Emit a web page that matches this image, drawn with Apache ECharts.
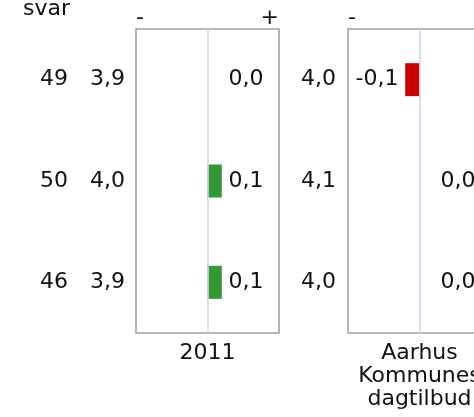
<!DOCTYPE html>
<html>
<head>
<meta charset="utf-8">
<script src="https://cdn.jsdelivr.net/npm/echarts@6/dist/echarts.min.js"></script>
<style>html,body{margin:0;padding:0;background:#fff;}#c{width:474px;height:417px;}</style>
</head>
<body>
<div id="c"></div>
<script>
// ---- data ----
var rows = [0, 1, 2];
var svarCounts = ['49', '50', '46'];
var mean2011 = [3.9, 4.0, 3.9];
var diff2011 = [0.0, 0.1, 0.1];
var meanAarhus = [4.0, 4.1, 4.0];
var diffAarhus = [-0.1, 0.0, 0.0];
var panelNames = ['2011', 'Aarhus\nKommunes\ndagtilbud'];
var signLabels = ['-', '+'];
var countHeader = 'svar';

var FONT = 'Verdana, "DejaVu Sans", sans-serif';
var TXT = '#111';
function fmt(v) { return (Math.abs(v) < 1e-9 ? 0 : v).toFixed(1).replace('.', ','); }

var chart = echarts.init(document.getElementById('c'), null, { renderer: 'canvas' });

var grids = [
  { left: 136, top: 29, width: 143, height: 304, show: true, borderColor: '#a0a0a0', borderWidth: 1.6, backgroundColor: 'transparent', outerBoundsMode: 'none' },
  { left: 348, top: 29, width: 143, height: 304, show: true, borderColor: '#a0a0a0', borderWidth: 1.6, backgroundColor: 'transparent', outerBoundsMode: 'none' }
];

var xAxes = [], yAxes = [], series = [];
var means = [mean2011, meanAarhus];
var diffs = [diff2011, diffAarhus];

[0, 1].forEach(function (g) {
  // top sign axis
  xAxes.push({
    gridIndex: g, type: 'value', position: 'top', min: -0.5, max: 0.5, interval: 0.5,
    axisLine: { show: false }, axisTick: { show: false }, splitLine: { show: false },
    axisLabel: {
      show: true, margin: 0, fontFamily: FONT, fontSize: 22, color: TXT,
      alignMinLabel: 'left', alignMaxLabel: 'right', hideOverlap: false,
      formatter: function (v) { return v < 0 ? signLabels[0] : (v > 0 ? signLabels[1] : ''); }
    }
  });
  // bottom name axis
  xAxes.push({
    gridIndex: g, type: 'value', position: 'bottom', min: -0.5, max: 0.5,
    axisLine: { show: false }, axisTick: { show: false }, splitLine: { show: false }, axisLabel: { show: false },
    name: panelNames[g], nameLocation: 'middle', nameGap: 9,
    nameTextStyle: { fontFamily: FONT, fontSize: 22, color: TXT, lineHeight: 23 }
  });
  // mean axis
  yAxes.push({
    gridIndex: g, type: 'category', inverse: true, data: means[g].map(fmt),
    axisLine: { show: false }, axisTick: { show: false }, splitLine: { show: false },
    axisLabel: { margin: g === 0 ? 11 : 12, fontFamily: FONT, fontSize: 22, color: TXT }
  });
});
// count axis for first grid
yAxes.push({
  gridIndex: 0, type: 'category', inverse: true, data: svarCounts, offset: 57, position: 'left',
  axisLine: { show: false }, axisTick: { show: false }, splitLine: { show: false },
  axisLabel: { margin: 11, fontFamily: FONT, fontSize: 22, color: TXT }
});

[0, 1].forEach(function (g) {
  series.push({
    type: 'bar', xAxisIndex: g * 2, yAxisIndex: g, barWidth: 33,
    data: diffs[g].map(function (v) {
      return { value: v, itemStyle: { color: v < 0 ? '#cc0000' : '#339933' } };
    }),
    silent: true,
    markLine: {
      silent: true, symbol: 'none', animation: false,
      label: { show: false },
      lineStyle: { color: '#d4d4f0', width: 1.6, type: 'solid' },
      data: [{ xAxis: 0 }]
    }
  });
  series.push({
    type: 'scatter', xAxisIndex: g * 2, yAxisIndex: g, symbolSize: 0, silent: true,
    itemStyle: { opacity: 1 },
    data: rows.map(function (i) {
      var v = diffs[g][i];
      return {
        value: [0, i],
        label: {
          show: true, position: v < 0 ? 'left' : 'right', distance: 21,
          formatter: fmt(v), fontFamily: FONT, fontSize: 22, color: TXT, opacity: 1
        }
      };
    })
  });
});

chart.setOption({
  animation: false,
  title: { text: countHeader, left: 18, top: -7, textStyle: { fontFamily: FONT, fontSize: 22, fontWeight: 'normal', color: TXT } },
  grid: grids,
  xAxis: xAxes,
  yAxis: yAxes,
  series: series
});
</script>
</body>
</html>
